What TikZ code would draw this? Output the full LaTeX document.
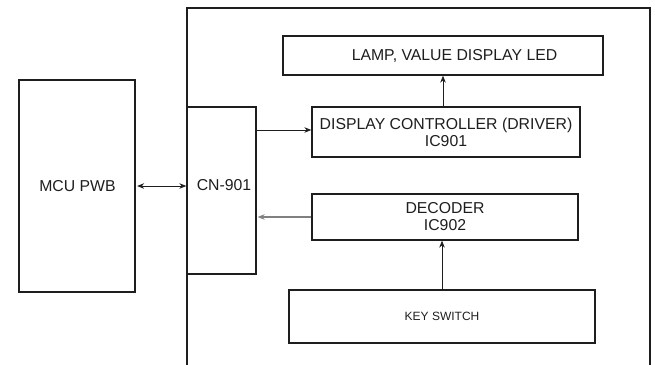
\documentclass[tikz,border=0pt]{standalone}
\usepackage{fontspec}
\setmainfont{Liberation Sans}
\usetikzlibrary{arrows.meta,calc}
\definecolor{ink}{HTML}{1E1E1E}
\definecolor{greyline}{HTML}{808080}
\tikzset{
  blk/.style={draw=ink, line width=1.3pt, rectangle, inner sep=0pt, text=ink,
              font=\fontsize{15.8}{17}\selectfont, align=center},
  txt/.style={inner sep=0pt, text=ink, font=\fontsize{15.8}{17}\selectfont, align=center},
  arr/.style={draw=ink, line width=0.8pt, -{Stealth[length=7pt,width=5.5pt]}},
  darr/.style={draw=ink, line width=0.8pt, {Stealth[length=7pt,width=5.5pt]}-{Stealth[length=7pt,width=5.5pt]}},
  garr/.style={draw=greyline, line width=1.1pt, -{Stealth[length=7pt,width=5.5pt]}},
}
\begin{document}
\begin{tikzpicture}[x=1pt,y=-1pt]
\useasboundingbox (0,0) rectangle (655,364);
% outer board
\coordinate (ob1) at (187,366);
\coordinate (ob2) at (187,8);
\coordinate (ob3) at (650,8);
\coordinate (ob4) at (650,366);
\draw[draw=ink, line width=1.6pt] (ob1) -- (ob2) -- (ob3) -- (ob4);
% blocks
\node[blk, minimum width=116pt, minimum height=212pt] (mcu) at (77,186) {};
\node[txt] (mcutext) at (77.5,186) {MCU PWB};
\node[blk, minimum width=69pt, minimum height=167pt] (cn) at (221.5,190.5) {};
\node[txt] (cntext) at (224,185) {CN-901};
\node[blk, minimum width=320pt, minimum height=39pt] (lamp) at (443,55.5) {};
\node[txt] (lamptext) at (454.5,55.5) {LAMP, VALUE DISPLAY LED};
\node[blk, minimum width=268pt, minimum height=50pt] (disp) at (446,132) {DISPLAY CONTROLLER (DRIVER)\\IC901};
\node[blk, minimum width=266pt, minimum height=46pt] (dec) at (445,217) {DECODER\\IC902};
\node[blk, minimum width=306pt, minimum height=53pt, font=\fontsize{12}{14}\selectfont] (key) at (442,316.5) {KEY SWITCH};
% connectors
\draw[darr, shorten <=1.5pt] (mcu.east) -- (mcu.east -| cn.west);
\draw[arr] ([yshift=2pt]cn.east |- disp.west) -- ([yshift=2pt]disp.west);
\draw[garr, shorten >=1pt] (dec.west) -- (dec.west -| cn.east);
\draw[arr] (key.north) -- (key.north |- dec.south);
\draw[arr] (disp.north -| lamp.south) -- (lamp.south);
\end{tikzpicture}
\end{document}
